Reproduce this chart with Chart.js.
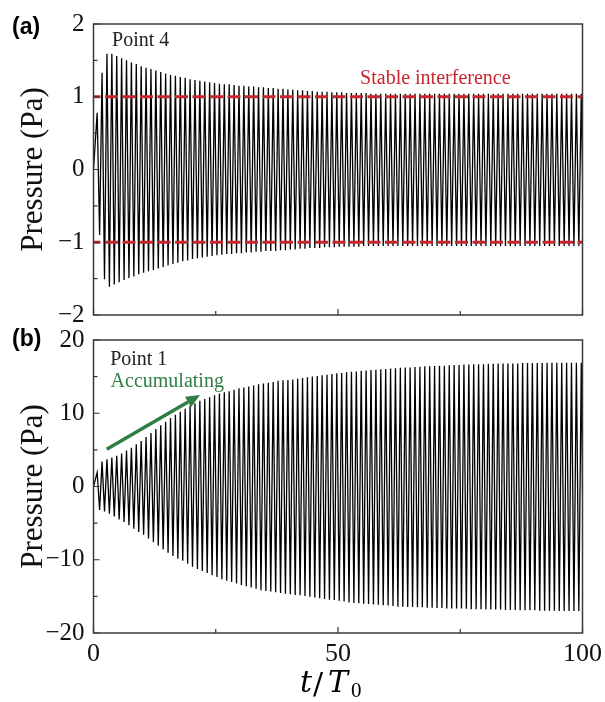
<!DOCTYPE html>
<html>
<head>
<meta charset="utf-8">
<script src="https://cdn.jsdelivr.net/npm/chart.js@4"></script>
<style>
  body { margin: 0; background: #fff; }
  #wrap { position: relative; width: 605px; height: 702px; }
  #chartA, #chartB { position: absolute; left: 0; }
  #chartA { top: 0; }
  #chartB { top: 315px; }
</style>
</head>
<body>
<div id="wrap">
  <canvas id="chartA" width="605" height="339"></canvas>
  <canvas id="chartB" width="605" height="387"></canvas>
</div>
<script>
// peak / trough of each cycle (one value per period T0)
const peaksA = [
  0.78, 1.33, 1.59, 1.59, 1.56, 1.53, 1.50, 1.47, 1.45, 1.42,
  1.40, 1.38, 1.36, 1.34, 1.32, 1.30, 1.29, 1.27, 1.26, 1.24,
  1.23, 1.22, 1.21, 1.20, 1.19, 1.18, 1.17, 1.17, 1.16, 1.15,
  1.15, 1.14, 1.14, 1.13, 1.13, 1.12, 1.12, 1.11, 1.11, 1.10,
  1.10, 1.09, 1.09, 1.08, 1.08, 1.07, 1.07, 1.07, 1.06, 1.06,
  1.06, 1.05, 1.05, 1.05, 1.05, 1.05, 1.04, 1.04, 1.04, 1.04,
  1.04, 1.04, 1.04, 1.04, 1.04, 1.04, 1.04, 1.04, 1.04, 1.04,
  1.04, 1.04, 1.04, 1.04, 1.04, 1.04, 1.04, 1.04, 1.04, 1.04,
  1.04, 1.04, 1.04, 1.04, 1.04, 1.04, 1.04, 1.04, 1.04, 1.04,
  1.04, 1.04, 1.04, 1.04, 1.04, 1.04, 1.04, 1.04, 1.04, 1.04
];
const troughsA = [
  -0.90, -1.51, -1.61, -1.58, -1.55, -1.52, -1.49, -1.47, -1.44, -1.42,
  -1.40, -1.38, -1.36, -1.34, -1.32, -1.30, -1.28, -1.26, -1.25, -1.23,
  -1.22, -1.21, -1.20, -1.19, -1.18, -1.17, -1.16, -1.16, -1.15, -1.15,
  -1.14, -1.14, -1.13, -1.13, -1.12, -1.12, -1.12, -1.11, -1.11, -1.10,
  -1.10, -1.09, -1.09, -1.08, -1.08, -1.08, -1.07, -1.07, -1.07, -1.06,
  -1.06, -1.06, -1.06, -1.06, -1.05, -1.05, -1.05, -1.05, -1.05, -1.05,
  -1.05, -1.05, -1.05, -1.05, -1.05, -1.05, -1.05, -1.05, -1.05, -1.05,
  -1.05, -1.05, -1.05, -1.05, -1.05, -1.05, -1.05, -1.05, -1.05, -1.05,
  -1.05, -1.05, -1.05, -1.05, -1.05, -1.05, -1.05, -1.05, -1.05, -1.05,
  -1.05, -1.05, -1.05, -1.05, -1.05, -1.05, -1.05, -1.05, -1.05, -1.05
];
const peaksB = [
  1.9, 3.4, 3.7, 3.95, 4.2, 4.5, 4.9, 5.3, 5.75, 6.2,
  6.75, 7.3, 7.85, 8.35, 8.85, 9.35, 9.8, 10.2, 10.6, 11.0,
  11.35, 11.7, 11.95, 12.2, 12.45, 12.7, 12.85, 13.0, 13.2, 13.4,
  13.5, 13.65, 13.8, 13.95, 14.05, 14.15, 14.25, 14.45, 14.5, 14.55,
  14.6, 14.7, 14.8, 14.9, 15.0, 15.1, 15.2, 15.25, 15.35, 15.45,
  15.5, 15.6, 15.65, 15.7, 15.8, 15.85, 15.9, 15.95, 16.0, 16.05,
  16.1, 16.15, 16.2, 16.25, 16.25, 16.3, 16.35, 16.4, 16.4, 16.45,
  16.5, 16.5, 16.55, 16.6, 16.6, 16.65, 16.65, 16.7, 16.7, 16.7,
  16.75, 16.75, 16.8, 16.8, 16.8, 16.8, 16.8, 16.85, 16.85, 16.85,
  16.85, 16.85, 16.9, 16.9, 16.9, 16.9, 16.9, 16.9, 16.9, 16.9
];
const troughsB = [
  -3.2, -3.4, -3.7, -4.1, -4.5, -4.85, -5.3, -5.75, -6.2, -6.6,
  -7.1, -7.6, -8.1, -8.6, -9.05, -9.5, -9.85, -10.15, -10.55, -10.95,
  -11.25, -11.55, -11.8, -12.1, -12.35, -12.65, -12.85, -13.05, -13.25, -13.45,
  -13.6, -13.8, -13.95, -14.15, -14.25, -14.35, -14.45, -14.55, -14.65, -14.7,
  -14.8, -14.85, -14.95, -15.05, -15.15, -15.25, -15.35, -15.45, -15.5, -15.6,
  -15.7, -15.85, -15.9, -15.95, -16.0, -16.05, -16.1, -16.15, -16.2, -16.25,
  -16.3, -16.4, -16.4, -16.45, -16.45, -16.5, -16.5, -16.55, -16.55, -16.6,
  -16.6, -16.65, -16.65, -16.65, -16.65, -16.7, -16.75, -16.75, -16.75, -16.8,
  -16.8, -16.8, -16.8, -16.85, -16.85, -16.85, -16.9, -16.9, -16.9, -16.9,
  -16.95, -16.95, -16.95, -16.95, -17.0, -17.0, -17.0, -17.0, -17.0, -17.0
];

// stable interference level (panel a)
const stableLevels = [1.0, -1.0];

// axis ticks
const xMajor = [0, 50, 100];
const xMinor = [25, 75];
const yMajorA = [-2, -1, 0, 1, 2];
const yMinorA = [-1.5, -0.5, 0.5, 1.5];
const yMajorB = [-20, -10, 0, 10, 20];
const yMinorB = [-15, -5, 5, 15];

// "Accumulating" arrow, in data units (t/T0, Pa)
const arrowFrom = [2.7, 5.1];
const arrowTo = [21.8, 12.5];

const SERIF = "'Liberation Serif', 'Times New Roman', serif";
const SANS = "'Liberation Sans', Arial, sans-serif";
const RED = "#c9252f";
const GREEN = "#2f7f45";

function buildWave(peaks, troughs) {
  const pts = [{ x: 0, y: 0 }];
  for (let i = 0; i < peaks.length; i++) {
    pts.push({ x: i + 0.75, y: peaks[i] });
    pts.push({ x: i + 1.25, y: troughs[i] });
  }
  return pts;
}

function minusFmt(v) {
  return v < 0 ? "\u2212" + Math.abs(v) : "" + v;
}

const decoPlugin = {
  id: "deco",
  afterDatasetsDraw(chart, args, o) {
    const ctx = chart.ctx;
    const a = chart.chartArea;
    const x = chart.scales.x;
    const y = chart.scales.y;
    ctx.save();

    // inward ticks
    ctx.strokeStyle = "#333";
    ctx.lineWidth = 1.2;
    ctx.beginPath();
    o.yMajor.forEach((v) => {
      const p = y.getPixelForValue(v);
      ctx.moveTo(a.left, p);
      ctx.lineTo(a.left + 6, p);
    });
    o.yMinor.forEach((v) => {
      const p = y.getPixelForValue(v);
      ctx.moveTo(a.left, p);
      ctx.lineTo(a.left + 4, p);
    });
    xMajor.forEach((v) => {
      const p = x.getPixelForValue(v);
      ctx.moveTo(p, a.bottom);
      ctx.lineTo(p, a.bottom - 6);
    });
    xMinor.forEach((v) => {
      const p = x.getPixelForValue(v);
      ctx.moveTo(p, a.bottom);
      ctx.lineTo(p, a.bottom - 4);
    });
    ctx.stroke();

    // frame
    ctx.lineWidth = 1.5;
    ctx.strokeStyle = "#3a3a3a";
    ctx.strokeRect(a.left, a.top, a.right - a.left, a.bottom - a.top);

    // annotations
    ctx.textBaseline = "alphabetic";
    o.texts.forEach((t) => {
      ctx.font = t.font;
      ctx.fillStyle = t.color;
      ctx.textAlign = t.align || "left";
      ctx.fillText(t.text, x.getPixelForValue(t.x), y.getPixelForValue(t.y));
    });

    // panel letter
    ctx.font = "bold 23px " + SANS;
    ctx.fillStyle = "#000";
    ctx.textAlign = "left";
    ctx.fillText(o.letter, 12, a.top + o.letterDy);

    if (o.arrow) {
      const x0 = x.getPixelForValue(arrowFrom[0]);
      const y0 = y.getPixelForValue(arrowFrom[1]);
      const x1 = x.getPixelForValue(arrowTo[0]);
      const y1 = y.getPixelForValue(arrowTo[1]);
      const ang = Math.atan2(y1 - y0, x1 - x0);
      const head = 14;
      const bx = x1 - head * Math.cos(ang);
      const by = y1 - head * Math.sin(ang);
      ctx.strokeStyle = GREEN;
      ctx.fillStyle = GREEN;
      ctx.lineWidth = 3.5;
      ctx.beginPath();
      ctx.moveTo(x0, y0);
      ctx.lineTo(bx, by);
      ctx.stroke();
      ctx.beginPath();
      ctx.moveTo(x1, y1);
      ctx.lineTo(bx + 6 * Math.sin(ang), by - 6 * Math.cos(ang));
      ctx.lineTo(bx - 6 * Math.sin(ang), by + 6 * Math.cos(ang));
      ctx.closePath();
      ctx.fill();
    }

    if (o.xTitle) {
      // t/T_0 written like a math label
      const base = a.bottom + 59;
      ctx.fillStyle = "#000";
      ctx.font = "italic 30px 'DejaVu Serif', serif";
      ctx.fillText("t", 300, base);
      ctx.font = "30px 'DejaVu Serif', serif";
      ctx.fillText("/", 313, base + 2);
      ctx.font = "italic 30px 'DejaVu Serif', serif";
      ctx.fillText("T", 328, base);
      ctx.font = "21px " + SERIF;
      ctx.fillText("0", 351, base + 5);
    }
    ctx.restore();
  },
};

function makeOptions(yMin, yMax, yStep, xLabels, xAxisHeight, topPad, deco) {
  return {
    responsive: false,
    animation: false,
    events: [],
    layout: { padding: { top: topPad, right: 22.5, left: 0, bottom: 0 } },
    plugins: {
      legend: { display: false },
      tooltip: { enabled: false },
      deco: deco,
    },
    scales: {
      x: {
        type: "linear",
        min: 0,
        max: 100,
        grid: { display: false, drawTicks: false },
        border: { display: false },
        ticks: {
          display: xLabels,
          stepSize: 50,
          padding: 6,
          color: "#111",
          font: { family: SERIF, size: 26 },
        },
        afterFit: (s) => {
          s.height = xAxisHeight;
          s.paddingLeft = 0;
          s.paddingRight = 0;
        },
      },
      y: {
        min: yMin,
        max: yMax,
        grid: { display: false, drawTicks: false },
        border: { display: false },
        ticks: {
          stepSize: yStep,
          padding: 9,
          color: "#111",
          font: { family: SERIF, size: 25 },
          callback: (v) => minusFmt(v),
        },
        title: {
          display: true,
          text: "Pressure (Pa)",
          color: "#111",
          font: { family: SERIF, size: 31 },
          padding: { top: 15, bottom: 0 },
        },
        afterFit: (s) => {
          s.width = 93.5;
        },
      },
    },
  };
}

let chartA = new Chart(document.getElementById("chartA"), {
  type: "line",
  data: {
    datasets: stableLevels
      .map((lv) => ({
        data: [{ x: 0, y: lv }, { x: 100, y: lv }],
        borderColor: RED,
        borderWidth: 3,
        borderDash: [13, 4.5],
        borderDashOffset: 6,
        pointRadius: 0,
      }))
      .concat([
        {
          data: buildWave(peaksA, troughsA),
          borderColor: "#000",
          borderWidth: 1.3,
          pointRadius: 0,
          tension: 0,
        },
      ]),
  },
  options: makeOptions(-2, 2, 1, false, 16, 21, {
    yMajor: yMajorA,
    yMinor: yMinorA,
    letter: "(a)",
    letterDy: 10,
    texts: [
      { text: "Point 4", x: 3.8, y: 1.70, font: "20px " + SERIF, color: "#222" },
      { text: "Stable interference", x: 69.9, y: 1.18, font: "20px " + SERIF, color: RED, align: "center" },
    ],
  }),
  plugins: [decoPlugin],
});

let chartB = new Chart(document.getElementById("chartB"), {
  type: "line",
  data: {
    datasets: [
      {
        data: buildWave(peaksB, troughsB),
        borderColor: "#000",
        borderWidth: 1.3,
        pointRadius: 0,
        tension: 0,
      },
    ],
  },
  options: makeOptions(-20, 20, 10, true, 69, 25, {
    yMajor: yMajorB,
    yMinor: yMinorB,
    letter: "(b)",
    letterDy: 6,
    arrow: true,
    xTitle: true,
    texts: [
      { text: "Point 1", x: 3.4, y: 16.6, font: "20px " + SERIF, color: "#222" },
      { text: "Accumulating", x: 3.5, y: 13.6, font: "20px " + SERIF, color: GREEN },
    ],
  }),
  plugins: [decoPlugin],
});
</script>
</body>
</html>
